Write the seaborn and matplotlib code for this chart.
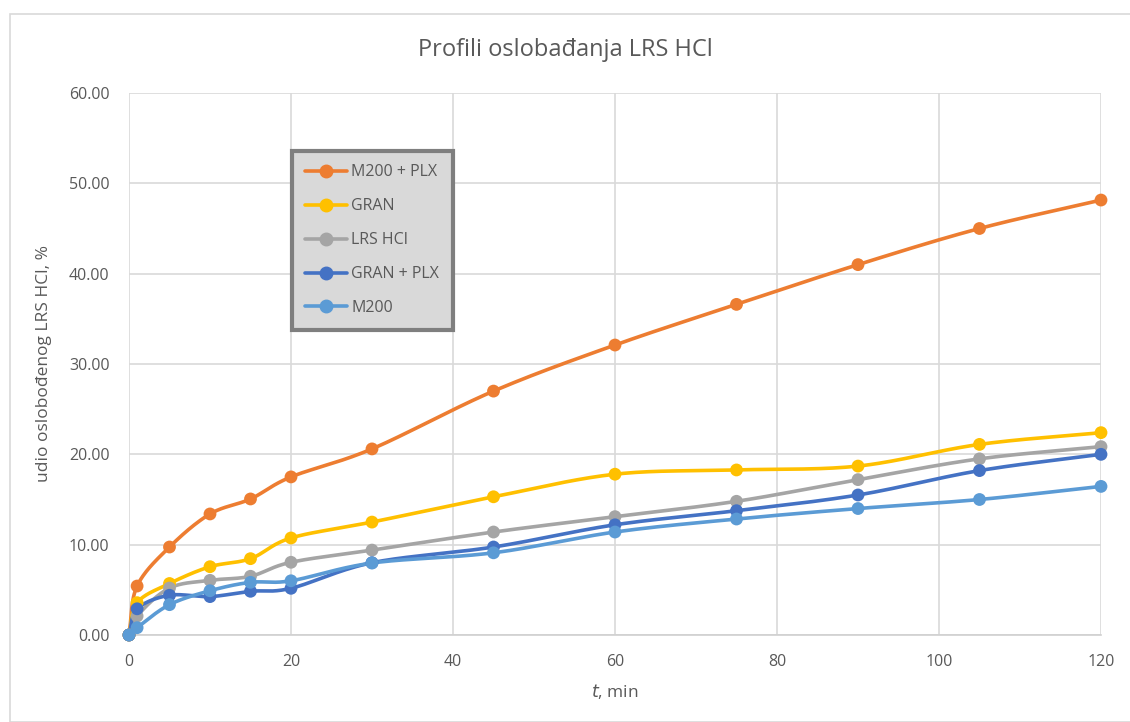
import numpy as np
import pandas as pd
import matplotlib
matplotlib.use("Agg")
import matplotlib.pyplot as plt
import seaborn as sns
from matplotlib.patches import Rectangle

# data
time_min = [0, 1, 5, 10, 15, 20, 30, 45, 60, 75, 90, 105, 120]
m200_plx = [0.0, 5.42, 9.74, 13.4, 15.06, 17.5, 20.6, 27.0, 32.1, 36.6, 41.0, 45.0, 48.15]
gran = [0.0, 3.58, 5.7, 7.56, 8.45, 10.74, 12.5, 15.3, 17.8, 18.27, 18.7, 21.1, 22.4]
lrs_hcl = [0.0, 2.1, 5.2, 6.05, 6.5, 8.05, 9.4, 11.4, 13.1, 14.8, 17.2, 19.5, 20.85]
gran_plx = [0.0, 2.9, 4.4, 4.25, 4.84, 5.17, 8.0, 9.74, 12.2, 13.76, 15.5, 18.2, 20.0]
m200 = [0.0, 0.81, 3.36, 4.9, 5.83, 6.0, 7.97, 9.1, 11.4, 12.84, 14.0, 15.0, 16.45]

series_names = ["M200 + PLX", "GRAN", "LRS HCl", "GRAN + PLX", "M200"]
series_values = [m200_plx, gran, lrs_hcl, gran_plx, m200]
colors = ["#ED7D31", "#FFC000", "#A5A5A5", "#4472C4", "#5B9BD5"]

df = pd.DataFrame({
    "t": time_min * len(series_names),
    "value": sum(series_values, []),
    "series": np.repeat(series_names, len(time_min)),
})


def smooth(x, y, n=30):
    # Catmull-Rom style smoothing, similar to Excel's "smoothed line"
    x = np.asarray(x, float)
    y = np.asarray(y, float)
    px = np.concatenate([[2 * x[0] - x[1]], x, [2 * x[-1] - x[-2]]])
    py = np.concatenate([[2 * y[0] - y[1]], y, [2 * y[-1] - y[-2]]])
    xs, ys = [], []
    for i in range(1, len(px) - 2):
        p0, p1, p2, p3 = (np.array([px[j], py[j]]) for j in range(i - 1, i + 3))
        c1 = p1 + (p2 - p0) / 6
        c2 = p2 - (p3 - p1) / 6
        tt = np.linspace(0, 1, n)[:, None]
        pts = ((1 - tt) ** 3) * p1 + 3 * ((1 - tt) ** 2) * tt * c1 + 3 * (1 - tt) * tt ** 2 * c2 + tt ** 3 * p2
        xs.append(pts[:, 0])
        ys.append(pts[:, 1])
    return np.concatenate(xs), np.concatenate(ys)


sns.set_style("white")
plt.rcParams["font.family"] = ["Open Sans", "DejaVu Sans"]

fig = plt.figure(figsize=(11.3, 7.22), dpi=100)
ax = fig.add_axes([129 / 1130, 1 - 635 / 722, 972 / 1130, 542 / 722])

# chart border
fig.patches.append(Rectangle((10 / 1130, 0), 1.0, 1 - 14 / 722, transform=fig.transFigure,
                             fill=False, edgecolor="#d9d9d9", linewidth=1.2))

for name, vals, col in zip(series_names, series_values, colors):
    sx, sy = smooth(time_min, vals)
    ax.plot(sx, sy, color=col, linewidth=2.6, zorder=3, clip_on=False)

sns.scatterplot(data=df, x="t", y="value", hue="series", hue_order=series_names,
                palette=colors, s=85, edgecolor="none", legend=False, ax=ax, zorder=4,
                clip_on=False)

ax.set_xlim(0, 120)
ax.set_ylim(0, 60)
ax.set_xticks(range(0, 121, 20))
ax.set_yticks(range(0, 61, 10))
ax.set_yticklabels([f"{v:.2f}" for v in range(0, 61, 10)])
ax.grid(True, color="#d9d9d9", linewidth=1.2)
ax.set_axisbelow(True)
for s in ["top", "right", "left"]:
    ax.spines[s].set_visible(False)
ax.spines["bottom"].set_color("#d0d0d0")
ax.spines["bottom"].set_linewidth(1.2)
ax.tick_params(axis="both", colors="#595959", labelsize=11.5, length=0)
ax.tick_params(axis="y", pad=14)
ax.tick_params(axis="x", pad=14)

ax.set_xlabel("$t$, min", fontsize=12.5, color="#595959", labelpad=8)
ax.set_ylabel("udio oslobođenog LRS HCl, %", fontsize=12.5, color="#595959", labelpad=12)
fig.text(0.5, 1 - 50 / 722, "Profili oslobađanja LRS HCl", ha="center", va="center",
         fontsize=17, color="#595959")

handles = [plt.Line2D([], [], color=c, linewidth=2.6, marker="o", markersize=9) for c in colors]
leg = ax.legend(handles, series_names, loc="upper left", bbox_to_anchor=(0.159, 0.908),
                frameon=True, fontsize=11.5, labelspacing=1.12, handlelength=2.6,
                handletextpad=0.3, borderpad=0.85, fancybox=False, labelcolor="#595959")
leg.get_frame().set_facecolor("#d9d9d9")
leg.get_frame().set_edgecolor("#7f7f7f")
leg.get_frame().set_linewidth(3)
leg.get_frame().set_alpha(1)

fig.savefig("out.png", dpi=100)
